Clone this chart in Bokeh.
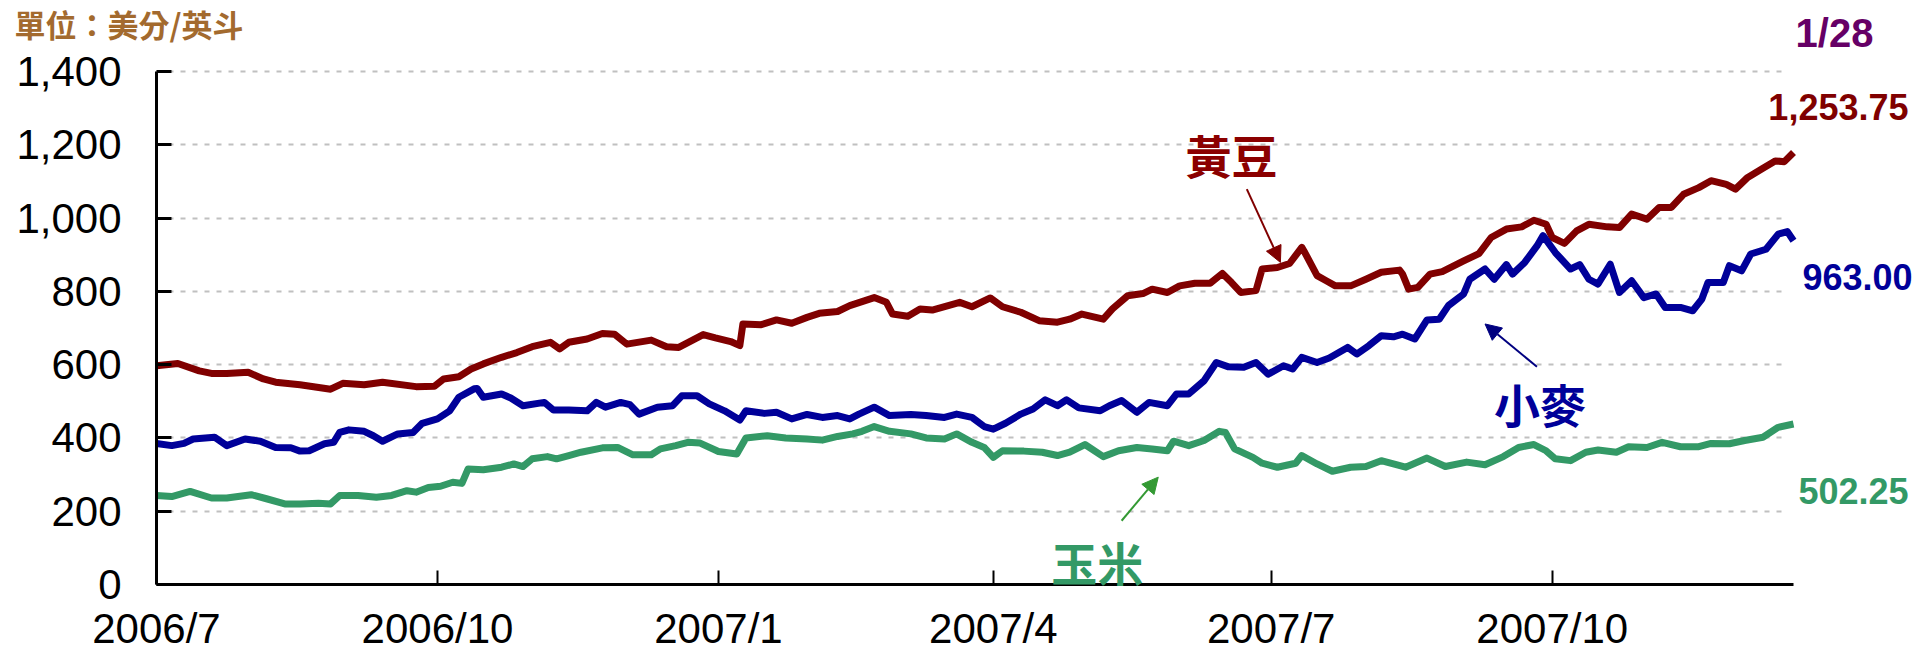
import pandas as pd
from bokeh.plotting import figure
from bokeh.models import (ColumnDataSource, Range1d, FixedTicker, NumeralTickFormatter,
                          CustomJSTickFormatter, Label, Arrow, NormalHead)
from bokeh.embed import file_html
from bokeh.resources import INLINE

# ---------------- data ----------------
unit_text = "單位：美分/英斗"
latest_date = "1/28"
series_names = ["黃豆", "小麥", "玉米"]
latest_prices = ["1,253.75", "963.00", "502.25"]

soy_dates = ["2006-07-01","2006-07-08","2006-07-15","2006-07-19","2006-07-24","2006-07-31","2006-08-05","2006-08-09",
             "2006-08-17","2006-08-27","2006-08-31","2006-09-07","2006-09-13","2006-09-24","2006-09-30","2006-10-03",
             "2006-10-08","2006-10-12","2006-10-16","2006-10-22","2006-10-27","2006-11-01","2006-11-07","2006-11-10",
             "2006-11-13","2006-11-19","2006-11-24","2006-11-28","2006-12-02","2006-12-10","2006-12-15","2006-12-19",
             "2006-12-27","2006-12-31","2007-01-05","2007-01-08","2007-01-09","2007-01-15","2007-01-20","2007-01-25",
             "2007-01-30","2007-02-03","2007-02-09","2007-02-13","2007-02-21","2007-02-25","2007-02-27","2007-03-04",
             "2007-03-08","2007-03-12","2007-03-21","2007-03-25","2007-03-31","2007-04-04","2007-04-10","2007-04-16",
             "2007-04-22","2007-04-26","2007-04-30","2007-05-07","2007-05-10","2007-05-15","2007-05-20","2007-05-23",
             "2007-05-28","2007-06-01","2007-06-06","2007-06-11","2007-06-15","2007-06-18","2007-06-21","2007-06-26",
             "2007-06-28","2007-07-03","2007-07-07","2007-07-11","2007-07-12","2007-07-16","2007-07-19","2007-07-22",
             "2007-07-27","2007-08-01","2007-08-06","2007-08-12","2007-08-13","2007-08-15","2007-08-18","2007-08-22",
             "2007-08-26","2007-09-02","2007-09-07","2007-09-11","2007-09-16","2007-09-21","2007-09-25","2007-09-29",
             "2007-10-01","2007-10-05","2007-10-09","2007-10-13","2007-10-19","2007-10-23","2007-10-27","2007-11-01",
             "2007-11-05","2007-11-09","2007-11-13","2007-11-18","2007-11-22","2007-11-27","2007-11-30","2007-12-04",
             "2007-12-09","2007-12-13","2007-12-16","2007-12-19"]
soy_values = [597,603,583,576,576,579,561,552,545,533,549,545,552,540,541,561,567,588,602,620,633,649,661,643,
              661,670,685,683,656,667,649,647,682,673,663,652,711,709,722,713,729,740,745,761,783,770,738,732,
              752,749,770,758,782,758,743,720,716,724,738,724,752,788,794,806,797,815,822,822,849,824,797,802,
              861,865,876,920,906,843,829,815,815,833,852,858,847,806,811,847,854,883,903,947,970,976,994,983,
              947,931,965,983,976,974,1011,997,1029,1029,1065,1083,1102,1092,1079,1111,1136,1156,1154,1179]

wheat_dates = ["2006-07-01","2006-07-06","2006-07-10","2006-07-13","2006-07-20","2006-07-24","2006-07-30","2006-08-04",
               "2006-08-09","2006-08-14","2006-08-17","2006-08-20","2006-08-25","2006-08-28","2006-08-30","2006-09-02",
               "2006-09-07","2006-09-10","2006-09-13","2006-09-18","2006-09-23","2006-09-26","2006-10-01","2006-10-05",
               "2006-10-08","2006-10-13","2006-10-14","2006-10-16","2006-10-22","2006-10-25","2006-10-29","2006-11-05",
               "2006-11-08","2006-11-13","2006-11-19","2006-11-22","2006-11-25","2006-11-30","2006-12-03","2006-12-06",
               "2006-12-12","2006-12-17","2006-12-20","2006-12-25","2006-12-29","2007-01-03","2007-01-08","2007-01-10",
               "2007-01-16","2007-01-20","2007-01-25","2007-01-30","2007-02-04","2007-02-09","2007-02-13","2007-02-16",
               "2007-02-21","2007-02-26","2007-03-05","2007-03-10","2007-03-16","2007-03-20","2007-03-25","2007-03-29",
               "2007-04-01","2007-04-05","2007-04-10","2007-04-14","2007-04-18","2007-04-22","2007-04-25","2007-04-29",
               "2007-05-06","2007-05-09","2007-05-13","2007-05-18","2007-05-22","2007-05-28","2007-05-31","2007-06-04",
               "2007-06-09","2007-06-13","2007-06-17","2007-06-22","2007-06-26","2007-06-30","2007-07-05","2007-07-08",
               "2007-07-11","2007-07-16","2007-07-20","2007-07-26","2007-07-29","2007-08-02","2007-08-06","2007-08-10",
               "2007-08-13","2007-08-17","2007-08-21","2007-08-25","2007-08-28","2007-09-02","2007-09-04","2007-09-09",
               "2007-09-12","2007-09-16","2007-09-18","2007-09-22","2007-09-26","2007-09-28","2007-10-02","2007-10-07",
               "2007-10-10","2007-10-13","2007-10-16","2007-10-20","2007-10-23","2007-10-27","2007-10-31","2007-11-04",
               "2007-11-07","2007-11-12","2007-11-16","2007-11-19","2007-11-21","2007-11-26","2007-11-28","2007-12-02",
               "2007-12-05","2007-12-10","2007-12-14","2007-12-17","2007-12-19"]
wheat_values = [385,379,385,397,402,379,397,391,374,373,364,365,384,388,415,422,418,406,391,411,415,440,452,474,
                511,534,535,511,520,509,488,497,476,476,474,497,484,497,491,465,484,488,515,515,493,474,449,474,
                467,470,452,464,456,461,452,465,484,461,464,461,456,465,456,431,424,440,465,479,504,488,504,482,
                474,488,502,470,497,488,520,520,556,606,594,593,606,574,597,588,620,606,618,647,629,652,679,676,
                683,670,722,724,761,793,833,861,833,873,847,879,924,952,906,861,873,833,820,874,797,829,783,793,
                756,756,747,779,824,824,870,856,902,915,956,963,938]

corn_dates = ["2006-07-01","2006-07-06","2006-07-12","2006-07-19","2006-07-24","2006-08-01","2006-08-06","2006-08-12",
              "2006-08-17","2006-08-23","2006-08-27","2006-08-30","2006-09-05","2006-09-11","2006-09-16","2006-09-21",
              "2006-09-24","2006-09-28","2006-10-02","2006-10-06","2006-10-09","2006-10-11","2006-10-16","2006-10-22",
              "2006-10-26","2006-10-29","2006-11-01","2006-11-06","2006-11-09","2006-11-13","2006-11-17","2006-11-24",
              "2006-11-29","2006-12-04","2006-12-10","2006-12-13","2006-12-18","2006-12-22","2006-12-26","2007-01-01",
              "2007-01-07","2007-01-10","2007-01-17","2007-01-23","2007-01-30","2007-02-04","2007-02-09","2007-02-14",
              "2007-02-17","2007-02-21","2007-02-26","2007-03-05","2007-03-10","2007-03-16","2007-03-20","2007-03-25",
              "2007-03-29","2007-04-01","2007-04-04","2007-04-11","2007-04-17","2007-04-22","2007-04-26","2007-05-01",
              "2007-05-07","2007-05-12","2007-05-18","2007-05-23","2007-05-28","2007-05-30","2007-06-04","2007-06-09",
              "2007-06-14","2007-06-16","2007-06-19","2007-06-25","2007-06-28","2007-07-03","2007-07-09","2007-07-11",
              "2007-07-16","2007-07-21","2007-07-27","2007-08-01","2007-08-06","2007-08-14","2007-08-21","2007-08-27",
              "2007-09-03","2007-09-09","2007-09-15","2007-09-20","2007-09-25","2007-09-29","2007-10-02","2007-10-07",
              "2007-10-12","2007-10-16","2007-10-22","2007-10-26","2007-11-01","2007-11-06","2007-11-12","2007-11-18",
              "2007-11-22","2007-11-28","2007-12-03","2007-12-09","2007-12-14","2007-12-19"]
corn_values = [243,240,254,236,236,245,234,220,220,222,220,243,243,238,243,256,252,265,268,279,276,315,313,320,
               329,322,343,349,343,352,361,373,374,354,354,370,379,388,386,363,356,400,406,400,397,394,404,411,
               418,431,418,411,400,397,411,388,374,347,365,364,361,352,361,382,349,365,374,370,365,391,379,393,
               418,415,370,347,331,320,331,352,329,309,320,322,338,320,345,322,334,327,349,374,382,365,343,338,
               361,367,361,376,374,388,376,376,385,384,393,402,429,438]

month_ticks = ["2006-07-01", "2006-10-01", "2007-01-01", "2007-04-01", "2007-07-01", "2007-10-01"]
y_ticks = [0, 200, 400, 600, 800, 1000, 1200, 1400]
x_start, x_end = "2006-07-01", "2007-12-19"

# ---------------- layout / styles ----------------
W, H = 1915, 651                 # canvas size
AX_X, AX_Y0, AX_Y1400 = 156, 584, 71   # pixel position of y axis, of value 0 and of 1400
AX_XEND = 1793                   # pixel position of the x-axis end
SOY_C, WHEAT_C, CORN_C = "#800000", "#000099", "#339966"
SANS = "Liberation Sans"
CJK = "Noto Sans CJK TC"


def ms(s):
    return pd.Timestamp(s).value / 1e6


t0, t1 = pd.Timestamp(x_start), pd.Timestamp(x_end)
px_per_day = (AX_XEND - AX_X) / ((t1 - t0).days)
px_per_unit = (AX_Y0 - AX_Y1400) / 1400.0
xr = Range1d(start=t0 - pd.Timedelta(days=AX_X / px_per_day),
             end=t0 + pd.Timedelta(days=(W - AX_X) / px_per_day))
yr = Range1d(start=-(H - AX_Y0) / px_per_unit, end=AX_Y0 / px_per_unit)

p = figure(width=W, height=H, x_axis_type="datetime", x_range=xr, y_range=yr,
           output_backend="svg", toolbar_location=None, title=None,
           min_border_left=0, min_border_right=0, min_border_top=0, min_border_bottom=0)
p.outline_line_color = None
p.background_fill_color = "white"
p.border_fill_color = "white"

for d, v, c in [(soy_dates, soy_values, SOY_C), (wheat_dates, wheat_values, WHEAT_C),
                (corn_dates, corn_values, CORN_C)]:
    src = ColumnDataSource(dict(x=pd.to_datetime(d), y=v))
    p.line("x", "y", source=src, line_color=c, line_width=7, line_join="round")

# y axis (drawn at the first date)
p.yaxis.fixed_location = ms(x_start)
p.yaxis.bounds = (0, 1400)
p.yaxis.ticker = FixedTicker(ticks=y_ticks)
p.yaxis.formatter = NumeralTickFormatter(format="0,0")
p.yaxis.major_label_text_font = SANS
p.yaxis.major_label_text_font_size = "42px"
p.yaxis.major_label_text_color = "black"
p.yaxis.major_label_standoff = 35
p.yaxis.major_tick_in = 15
p.yaxis.major_tick_out = 0
p.yaxis.major_tick_line_width = 3
p.yaxis.minor_tick_line_color = None
p.yaxis.axis_line_width = 3
p.yaxis.axis_line_color = "black"

# x axis (drawn at value 0)
p.xaxis.fixed_location = 0
p.xaxis.bounds = (ms(x_start), ms(x_end))
p.xaxis.ticker = FixedTicker(ticks=[ms(t) for t in month_ticks])
p.xaxis.formatter = CustomJSTickFormatter(
    code="const d = new Date(tick); return d.getUTCFullYear() + '/' + (d.getUTCMonth() + 1);")
p.xaxis.major_label_text_font = SANS
p.xaxis.major_label_text_font_size = "42px"
p.xaxis.major_label_text_color = "black"
p.xaxis.major_label_standoff = 20
p.xaxis.major_tick_in = 14
p.xaxis.major_tick_out = 0
p.xaxis.major_tick_line_width = 2
p.xaxis.minor_tick_line_color = None
p.xaxis.axis_line_width = 3
p.xaxis.axis_line_color = "black"

# grid
p.xgrid.visible = False
p.ygrid.ticker = FixedTicker(ticks=y_ticks[1:])
p.ygrid.cross_bounds = (ms(x_start), ms("2007-12-17"))
p.ygrid.grid_line_color = "#C0C0C0"
p.ygrid.grid_line_width = 2
p.ygrid.grid_line_dash = "5 7"

# unit text (top left); screen units measured from the bottom-left corner
p.add_layout(Label(x=14, y=H - 23, x_units="screen", y_units="screen", text=unit_text,
                   text_font=CJK, text_font_size="31px", text_font_style="bold",
                   text_color="#A36A2E", text_align="left", text_baseline="middle"))

# latest date and prices (right side), vertically centred on the text
p.add_layout(Label(x=1834, y=H - 32.5, x_units="screen", y_units="screen", text=latest_date,
                   text_font=SANS, text_font_size="40px", text_font_style="bold",
                   text_color="#660066", text_align="center", text_baseline="middle"))
for txt, ymid, xright, c in [(latest_prices[0], 106.5, 1908, SOY_C), (latest_prices[1], 276.5, 1912, WHEAT_C),
                             (latest_prices[2], 490, 1908, CORN_C)]:
    p.add_layout(Label(x=xright, y=H - ymid, x_units="screen", y_units="screen", text=txt,
                       text_font=SANS, text_font_size="36px", text_font_style="bold",
                       text_color=c, text_align="right", text_baseline="middle"))

# series name annotations with arrows (data units)
ann = [(series_names[0], "2007-06-18", 1176, "#8B0000", ("2007-06-23", 1079, "2007-07-04", 879), SOY_C),
       (series_names[1], "2007-09-27", 495, WHEAT_C, ("2007-09-26", 594, "2007-09-09", 711), "#000080"),
       (series_names[2], "2007-05-05", 63, CORN_C, ("2007-05-13", 174, "2007-05-25", 293), "#339933")]
for name, xd, yv, tc, (xs, ys, xe, ye), ac in ann:
    p.add_layout(Label(x=ms(xd), y=yv, text=name, text_font=CJK, text_font_size="46px",
                       text_font_style="bold", text_color=tc, text_align="center", text_baseline="middle"))
    p.add_layout(Arrow(x_start=ms(xs), y_start=ys, x_end=ms(xe), y_end=ye,
                       line_color=ac, line_width=2,
                       end=NormalHead(size=16, fill_color=ac, line_color=ac, line_width=1)))

open("out.html", "w").write(file_html(p, INLINE))
